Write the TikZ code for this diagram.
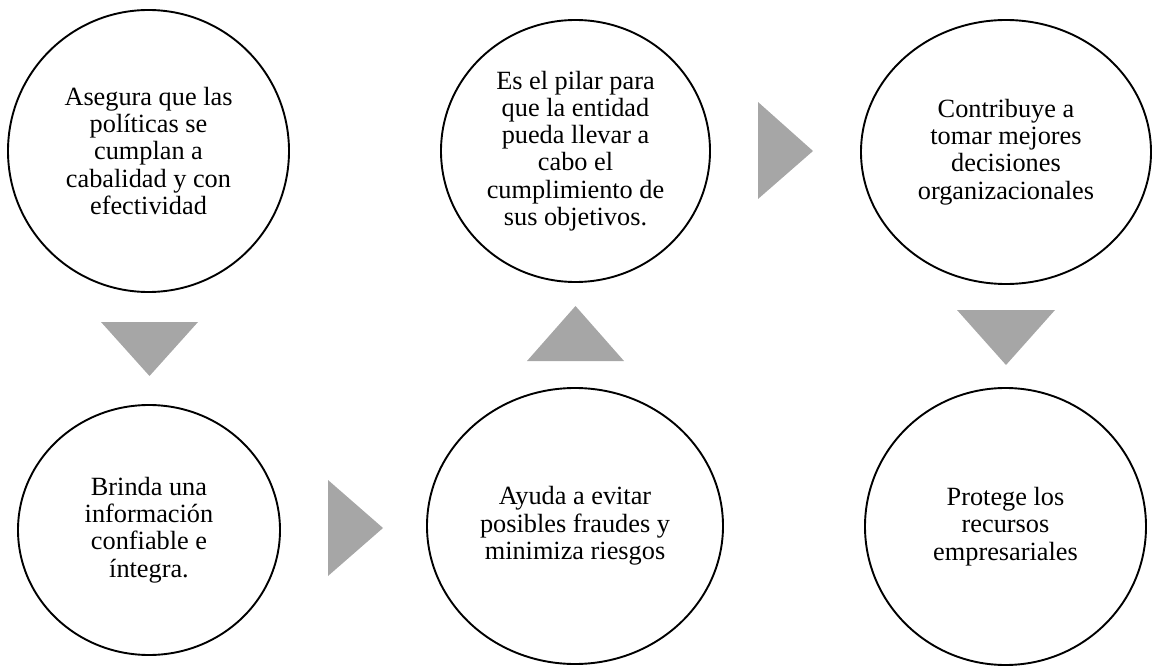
\documentclass[tikz,border=0pt]{standalone}
\usepackage{fontspec}
\setmainfont{Liberation Serif}
\usetikzlibrary{shapes.geometric}
\definecolor{arrowgray}{HTML}{A6A6A6}
\begin{document}
\begin{tikzpicture}[x=1pt,y=-1pt,
  bubble/.style={ellipse, draw=black, line width=1.9pt, fill=white, inner sep=0pt,
    align=center, font=\fontsize{26.3}{27.3}\selectfont},
  pointer/.style={fill=arrowgray, draw=none}]
\useasboundingbox (0,0) rectangle (1152,666);

% Circles
\node[bubble, minimum width=281pt, minimum height=282pt] (c1) at (148.5,151)
  {Asegura que las\\políticas se\\cumplan a\\cabalidad y con\\efectividad};
\node[bubble, minimum width=262pt, minimum height=250pt] (c2) at (149,530)
  {Brinda una\\información\\confiable e\\íntegra.};
\node[bubble, minimum width=296pt, minimum height=276pt] (c4) at (575,526)
  {Ayuda a evitar\\posibles fraudes y\\minimiza riesgos};
\node[bubble, minimum width=269pt, minimum height=262pt] (c3) at (575.5,151)
  {Es el pilar para\\que la entidad\\pueda llevar a\\cabo el\\cumplimiento de\\sus objetivos.};
\node[bubble, minimum width=290pt, minimum height=264pt] (c5) at (1006,152)
  {Contribuye a\\tomar mejores\\decisiones\\organizacionales};
\node[bubble, minimum width=281pt, minimum height=277pt] (c6) at (1005.5,526.5)
  {Protege los\\recursos\\empresariales};

% Direction triangles
\fill[pointer] (101,322) -- (198,322) -- (149.5,376) -- cycle;
\fill[pointer] (328,480) -- (383,528) -- (328,576) -- cycle;
\fill[pointer] (527,361) -- (624,361) -- (575.5,306) -- cycle;
\fill[pointer] (758,102) -- (813,151) -- (758,199) -- cycle;
\fill[pointer] (957,310) -- (1055,310) -- (1006,365) -- cycle;
\end{tikzpicture}
\end{document}
